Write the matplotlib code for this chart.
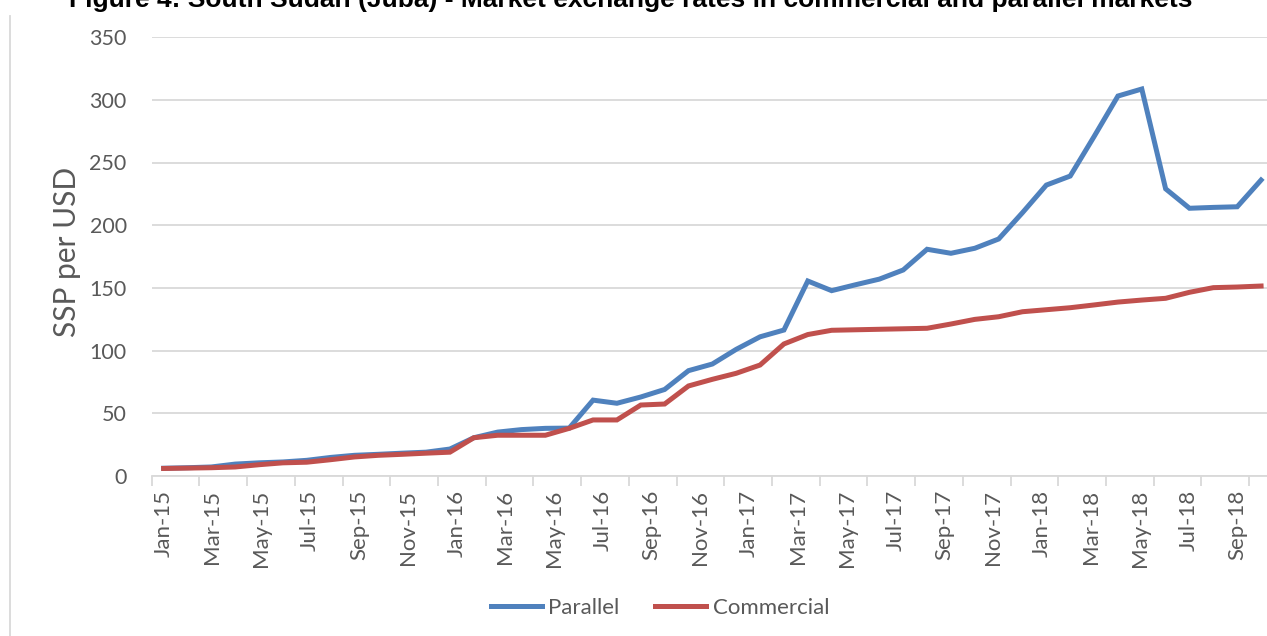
import matplotlib
matplotlib.use("Agg")
import matplotlib.pyplot as plt
from matplotlib.lines import Line2D
import numpy as np

# ---- data ----
months = ["Jan-15","Feb-15","Mar-15","Apr-15","May-15","Jun-15","Jul-15","Aug-15","Sep-15","Oct-15","Nov-15","Dec-15",
          "Jan-16","Feb-16","Mar-16","Apr-16","May-16","Jun-16","Jul-16","Aug-16","Sep-16","Oct-16","Nov-16","Dec-16",
          "Jan-17","Feb-17","Mar-17","Apr-17","May-17","Jun-17","Jul-17","Aug-17","Sep-17","Oct-17","Nov-17","Dec-17",
          "Jan-18","Feb-18","Mar-18","Apr-18","May-18","Jun-18","Jul-18","Aug-18","Sep-18","Oct-18","Nov-18"]
parallel = [6.2, 6.6, 7.2, 9.5, 10.5, 11.2, 12.5, 14.8, 16.5, 17.3, 18.2, 19.0,
            21.5, 30.5, 35.0, 37.0, 38.0, 38.2, 60.5, 58.0, 63.0, 69.0, 84.0, 89.3,
            101.0, 111.0, 116.4, 155.5, 147.8, 152.5, 157.0, 164.3, 180.8, 177.6, 181.6, 189.0,
            210.0, 232.0, 239.2, 270.7, 303.0, 308.6, 229.0, 213.5, 214.2, 214.7, 236.0]
commercial = [6.0, 6.3, 6.6, 7.2, 9.0, 10.5, 11.0, 13.0, 15.2, 16.5, 17.3, 18.2,
              19.0, 30.5, 32.5, 32.5, 32.5, 38.0, 44.7, 44.7, 56.6, 57.4, 71.8, 77.1,
              81.9, 88.5, 105.3, 112.8, 116.2, 116.6, 117.0, 117.4, 117.8, 121.2, 124.9, 127.0,
              131.0, 132.6, 134.2, 136.4, 138.7, 140.3, 141.7, 146.5, 150.2, 150.7, 151.5]
tick_labels = ["Jan-15","Mar-15","May-15","Jul-15","Sep-15","Nov-15","Jan-16","Mar-16","May-16","Jul-16",
               "Sep-16","Nov-16","Jan-17","Mar-17","May-17","Jul-17","Sep-17","Nov-17","Jan-18","Mar-18",
               "May-18","Jul-18","Sep-18"]
yticks = [0, 50, 100, 150, 200, 250, 300, 350]

title = "Figure 4: South Sudan (Juba) - Market exchange rates in commercial and parallel markets"

BLUE = "#4F81BD"
RED = "#C0504D"
GRID = "#D9D9D9"
TXT = "#595959"
FONT = ["Lato", "DejaVu Sans"]

W, H = 1267, 636
fig = plt.figure(figsize=(W/100, H/100), dpi=100)

x0, x1 = 151.7, 1273.0
ybot, ytop = 476.0, 37.1
ax = fig.add_axes([x0/W, 1 - ybot/H, (x1 - x0)/W, (ybot - ytop)/H])

x = np.arange(len(months))
ax.plot(x, parallel, color=BLUE, lw=3.6, solid_joinstyle="miter", label="Parallel", zorder=3)
ax.plot(x, commercial, color=RED, lw=3.6, solid_joinstyle="miter", label="Commercial", zorder=3)

ax.set_xlim(-0.5, len(months) - 0.5)
ax.set_ylim(0, 350)
ax.set_yticks(yticks)
ax.set_yticklabels([str(v) for v in yticks], fontsize=15.5, color=TXT, family=FONT)
ax.tick_params(axis="y", length=0, pad=18)
ax.yaxis.grid(True, color=GRID, lw=1.3)
ax.set_axisbelow(True)

# category boundaries (tick marks every 2 months)
ax.set_xticks(np.arange(-0.5, len(months) - 0.5, 2), minor=True)
ax.tick_params(axis="x", which="minor", length=7, width=1.3, color=GRID, direction="out")
lab_pos = np.linspace(0, len(months) - 2, len(tick_labels))
ax.set_xticks(lab_pos)
ax.set_xticklabels(tick_labels, rotation=90, fontsize=16, color=TXT, family=FONT)
ax.tick_params(axis="x", which="major", length=0, pad=10)

for s in ["top", "right", "left"]:
    ax.spines[s].set_visible(False)
ax.spines["bottom"].set_color(GRID)
ax.spines["bottom"].set_linewidth(1.3)

ax.set_ylabel("SSP per USD", fontsize=21.5, color=TXT, family=FONT)
ax.yaxis.set_label_coords(-(151.7 - 81) / (x1 - x0), (ybot - 252) / (ybot - ytop))

fig.text(631/W, 1 - 7.5/H, title, ha="center", va="baseline", fontsize=19,
         fontweight="bold", family=["Liberation Sans", "DejaVu Sans"], color="black")

fig.add_artist(Line2D([10/W, 10/W], [0, 1 - 16/H], transform=fig.transFigure, color=GRID, lw=1.3))

leg = fig.legend(loc="center", bbox_to_anchor=(660/W, 1 - 608/H), ncol=2, frameon=False,
                 handlelength=2.3, handletextpad=0.3, columnspacing=1.6,
                 prop={"family": FONT, "size": 16})
for t in leg.get_texts():
    t.set_color(TXT)

fig.savefig("out.png", dpi=100)
